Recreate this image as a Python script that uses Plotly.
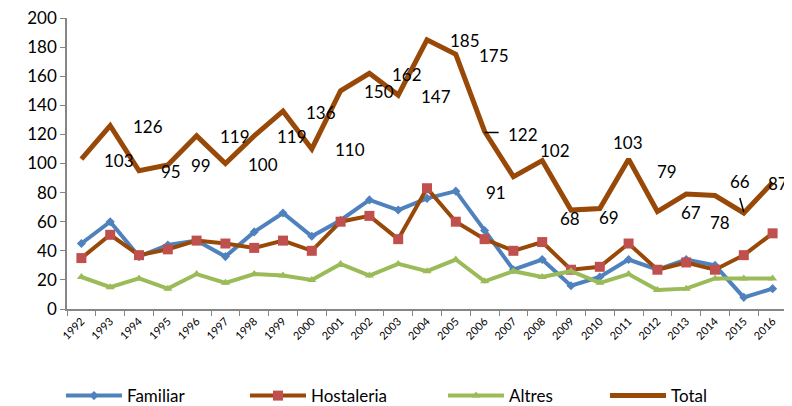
import plotly.graph_objects as go

# data
years = [str(y) for y in range(1992, 2017)]
familiar = [45, 60, 36, 44, 47, 36, 53, 66, 50, 61, 75, 68, 76, 81, 54, 27, 34, 16, 22, 34, 27, 34, 30, 8, 14]
hostaleria = [35, 51, 37, 41, 47, 45, 42, 47, 40, 60, 64, 48, 83, 60, 48, 40, 46, 27, 29, 45, 27, 32, 27, 37, 52]
altres = [22, 15, 21, 14, 24, 18, 24, 23, 20, 31, 23, 31, 26, 34, 19, 26, 22, 26, 18, 24, 13, 14, 21, 21, 21]
total = [103, 126, 95, 99, 119, 100, 119, 136, 110, 150, 162, 147, 185, 175, 122, 91, 102, 68, 69, 103, 67, 79, 78, 66, 87]

# label offsets for Total data labels (px, dx right / dy down), like the moved Excel labels
label_default = (38, 1)
label_moved = {"1994": (32, 1), "1995": (33, 1), "2006": (38, 3), "2007": (-17, 16),
               "2008": (13, -10), "2009": (-1, 8), "2010": (9, 9), "2011": (-1, -17),
               "2012": (34, 1), "2013": (-19, -23), "2014": (5, 27), "2015": (-4, -31),
               "2016": (5, 1)}

BLUE = "#4F81BD"
BROWN = "#984807"
RED = "#C0504D"
GREEN = "#9BBB59"
FONT = "Lato"

fig = go.Figure()
fig.add_trace(go.Scatter(x=years, y=familiar, name="Familiar", mode="lines+markers",
                         line=dict(color=BLUE, width=4),
                         marker=dict(symbol="diamond", size=7, color=BLUE),
                         legendwidth=113))
fig.add_trace(go.Scatter(x=years, y=hostaleria, name="Hostaleria", mode="lines+markers",
                         line=dict(color=BROWN, width=4),
                         marker=dict(symbol="square", size=10, color=RED),
                         legendwidth=127))
fig.add_trace(go.Scatter(x=years, y=altres, name="Altres", mode="lines+markers",
                         line=dict(color=GREEN, width=4),
                         marker=dict(symbol="triangle-up", size=8, color=GREEN),
                         legendwidth=91))
fig.add_trace(go.Scatter(x=years, y=total, name="Total", mode="lines",
                         line=dict(color=BROWN, width=5),
                         legendwidth=45))

# data labels of Total (x given as category index, digit strings would be read as numbers)
for i, v in enumerate(total):
    dx, dy = label_moved.get(years[i], label_default)
    fig.add_annotation(x=i, y=v, text=str(v), showarrow=False,
                       xshift=dx, yshift=-dy, font=dict(size=17, color="black", family=FONT))

# leader lines of the two dragged labels
fig.add_shape(type="line", xref="x", yref="y", xsizemode="pixel", ysizemode="pixel",
              xanchor=years.index("2006"), yanchor=total[years.index("2006")],
              x0=0, x1=14, y0=-1, y1=-1, line=dict(color="black", width=1.5))
fig.add_shape(type="line", xref="x", yref="y", xsizemode="pixel", ysizemode="pixel",
              xanchor=years.index("2015"), yanchor=total[years.index("2015")],
              x0=0, x1=-4, y0=1, y1=15, line=dict(color="black", width=1.5))

fig.update_xaxes(type="category", range=[-0.5, len(years) - 0.5],
                 tickangle=-45, tickfont=dict(size=11, family=FONT, color="black"),
                 showline=True, linecolor="#868686", linewidth=1.5,
                 ticks="outside", tickson="boundaries", ticklen=5, tickcolor="#868686",
                 showgrid=False, zeroline=False, automargin=False)
fig.update_yaxes(range=[0, 200], dtick=20, tickfont=dict(size=17, family=FONT, color="black"),
                 ticklabeloverflow="allow", automargin=False,
                 showline=True, linecolor="#868686", linewidth=1.5,
                 ticks="outside", ticklen=5, tickcolor="#868686",
                 showgrid=False, zeroline=False)

# page body has an 8px margin, so the figure is 8px smaller than the window
fig.update_layout(width=784, height=398, plot_bgcolor="white", paper_bgcolor="white",
                  margin=dict(l=59, r=5, t=10, b=97),
                  font=dict(family=FONT, color="black"),
                  legend=dict(orientation="h", xref="container", yref="container",
                              x=0.4885, xanchor="center", y=0.025, yanchor="middle",
                              itemwidth=56, font=dict(size=17, family=FONT, color="black")))

fig.write_html("out.html")
